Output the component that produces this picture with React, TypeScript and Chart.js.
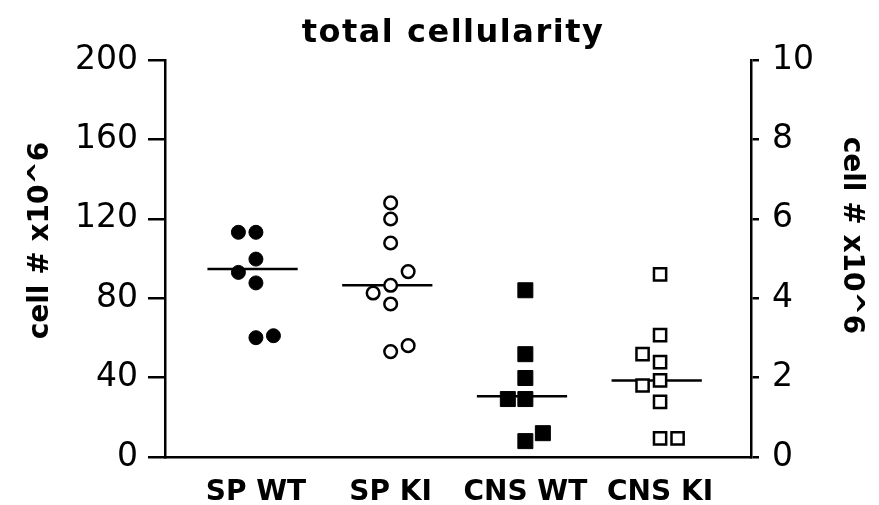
import React, { useEffect, useRef } from "react";
import { Chart, registerables } from "chart.js";

Chart.register(...registerables);

const chartTitle = "total cellularity";
const axisTitle = "cell # x10^6";
const categories = ["SP WT", "SP KI", "CNS WT", "CNS KI"];

const leftTicks = [0, 40, 80, 120, 160, 200];
const rightTicks = [0, 2, 4, 6, 8, 10];

// SP groups: left axis (0-200); CNS groups: right axis (0-10)
const spWtValues = [113.2, 113.2, 99.7, 93.0, 87.7, 60.1, 61.1];
const spWtJitter = [-0.13, 0, 0, -0.13, 0, 0, 0.13];
const spKiValues = [128, 119.9, 107.8, 93.4, 86.5, 82.6, 77.1, 53.1, 56.1];
const spKiJitter = [0, 0, 0, 0.13, 0, -0.13, 0, 0, 0.13];
const cnsWtValues = [4.2, 2.59, 1.99, 1.46, 1.46, 0.4, 0.6];
const cnsWtJitter = [0, 0, 0, -0.13, 0, 0, 0.13];
const cnsKiValues = [4.6, 3.07, 2.59, 2.39, 1.93, 1.8, 1.39, 0.47, 0.47];
const cnsKiJitter = [0, 0, -0.13, 0, 0, -0.13, 0, 0, 0.13];
const medians = [94.7, 86.5, 1.53, 1.93];
const medianAxis = ["y", "y", "y2", "y2"];

const medianLeft = -0.36;
const medianRight = 0.31;

function pts(center: number, values: number[], jitter: number[]) {
  return values.map((v, i) => ({ x: center + jitter[i], y: v }));
}

const titlesPlugin = {
  id: "customTitles",
  afterDraw(chart: any) {
    const ctx = chart.ctx as CanvasRenderingContext2D;
    const a = chart.chartArea;
    const midY = (a.top + a.bottom) / 2;
    ctx.save();
    ctx.fillStyle = "#000";
    ctx.textAlign = "center";
    ctx.textBaseline = "alphabetic";
    ctx.font = 'bold 32px "DejaVu Sans"';
    (ctx as any).letterSpacing = "1.5px";
    ctx.fillText(chartTitle, (a.left + a.right) / 2 - 5, a.top - 18);
    (ctx as any).letterSpacing = "0px";
    ctx.font = 'bold 28px "DejaVu Sans"';
    ctx.save();
    ctx.translate(a.left - 117, midY - 18);
    ctx.rotate(-Math.PI / 2);
    ctx.fillText(axisTitle, 0, 0);
    ctx.restore();
    ctx.save();
    ctx.translate(a.right + 93, midY - 23);
    ctx.rotate(Math.PI / 2);
    ctx.fillText(axisTitle, 0, 0);
    ctx.restore();
    ctx.restore();
  },
};

export default function App() {
  const ref = useRef<HTMLCanvasElement | null>(null);

  useEffect(() => {
    if (!ref.current) return;
    const groups = [
      { values: spWtValues, jitter: spWtJitter, axis: "y", style: "circle", fill: true, r: 7, bw: 1 },
      { values: spKiValues, jitter: spKiJitter, axis: "y", style: "circle", fill: false, r: 6.3, bw: 2.5 },
      { values: cnsWtValues, jitter: cnsWtJitter, axis: "y2", style: "rect", fill: true, r: 10.6, bw: 1 },
      { values: cnsKiValues, jitter: cnsKiJitter, axis: "y2", style: "rect", fill: false, r: 8.6, bw: 2.5 },
    ];
    const datasets: any[] = [];
    groups.forEach((g, i) => {
      datasets.push({
        label: categories[i],
        data: pts(i, g.values, g.jitter),
        yAxisID: g.axis,
        pointStyle: g.style,
        pointRadius: g.r,
        pointBorderWidth: g.bw,
        pointBackgroundColor: g.fill ? "#000" : "#fff",
        pointBorderColor: "#000",
        showLine: false,
        order: 1,
      });
    });
    medians.forEach((m, i) => {
      datasets.push({
        label: categories[i] + " median",
        data: [
          { x: i + medianLeft, y: m },
          { x: i + medianRight, y: m },
        ],
        yAxisID: medianAxis[i],
        showLine: true,
        borderColor: "#000",
        borderWidth: 2.5,
        pointRadius: 0,
        order: 2,
      });
    });

    const chart = new Chart(ref.current, {
      type: "scatter",
      data: { datasets },
      plugins: [titlesPlugin],
      options: {
        animation: false,
        responsive: false,
        devicePixelRatio: 1,
        layout: { padding: { top: 60, left: 0, right: 0, bottom: 0 } },
        plugins: {
          legend: { display: false },
          tooltip: { enabled: false },
          title: { display: false },
        },
        scales: {
          x: {
            type: "linear",
            min: -0.675,
            max: 3.675,
            afterBuildTicks: (s: any) => {
              s.ticks = categories.map((_, i) => ({ value: i }));
            },
            afterFit: (s: any) => {
              s.height = 48;
            },
            grid: { display: false, drawTicks: false, tickLength: 0 },
            border: { display: true, color: "#000", width: 2.5 },
            ticks: {
              autoSkip: false,
              maxRotation: 0,
              padding: 19,
              color: "#000",
              font: { family: "DejaVu Sans", size: 28, weight: "bold" },
              callback: (v: any) => categories[Math.round(Number(v))] ?? "",
            },
          },
          y: {
            type: "linear",
            position: "left",
            min: 0,
            max: 200,
            afterBuildTicks: (s: any) => {
              s.ticks = leftTicks.map((v) => ({ value: v }));
            },
            afterFit: (s: any) => {
              s.width = 165;
            },
            grid: { drawOnChartArea: false, drawTicks: true, tickLength: 17, color: "#000", lineWidth: 2.5 },
            border: { display: true, color: "#000", width: 2.5 },
            ticks: {
              padding: 10,
              color: "#000",
              font: { family: "DejaVu Sans", size: 33 },
            },
          },
          y2: {
            type: "linear",
            position: "right",
            min: 0,
            max: 10,
            afterBuildTicks: (s: any) => {
              s.ticks = rightTicks.map((v) => ({ value: v }));
            },
            afterFit: (s: any) => {
              s.width = 128;
            },
            grid: { drawOnChartArea: false, drawTicks: true, tickLength: 8, color: "#000", lineWidth: 2.5 },
            border: { display: true, color: "#000", width: 2.5 },
            ticks: {
              padding: 13,
              color: "#000",
              font: { family: "DejaVu Sans", size: 33 },
            },
          },
        },
      } as any,
    });
    return () => chart.destroy();
  }, []);

  return (
    <div style={{ position: "fixed", left: 0, top: 0, width: 879, height: 505, background: "#fff" }}>
      <canvas ref={ref} width={879} height={505} style={{ width: 879, height: 505, display: "block" }} />
    </div>
  );
}
